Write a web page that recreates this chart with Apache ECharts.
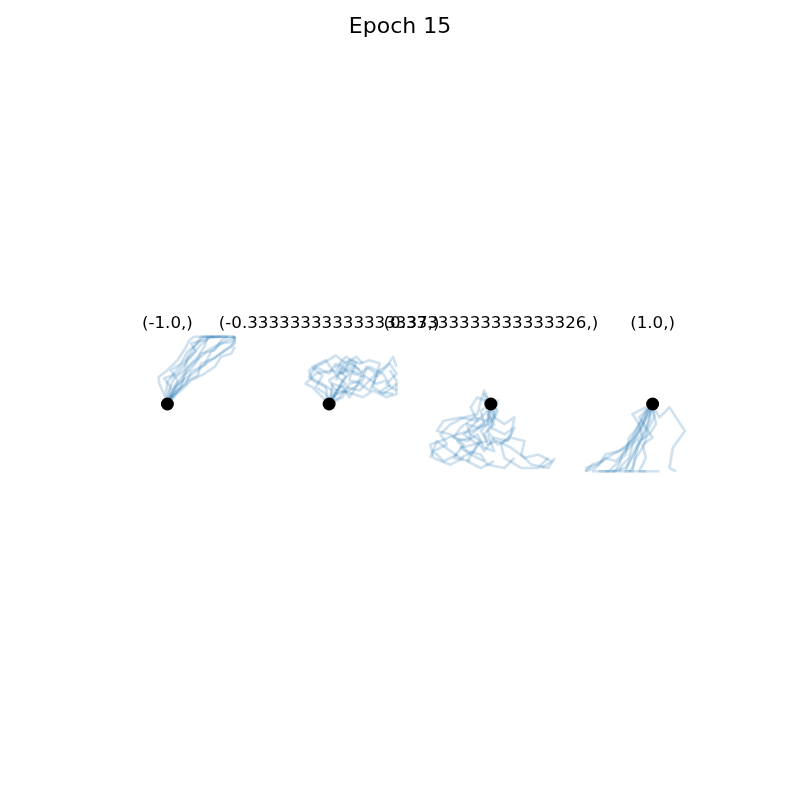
<!DOCTYPE html>
<html>
<head>
<meta charset="utf-8">
<script src="https://cdn.jsdelivr.net/npm/echarts@6/dist/echarts.min.js"></script>
<style>html,body{margin:0;padding:0;background:#fff}#c{width:800px;height:800px}</style>
</head>
<body>
<div id="c"></div>
<script>
const suptitle = "Epoch 15";
const panelTitles = ["(-1.0,)", "(-0.33333333333333337,)", "(0.33333333333333326,)", "(1.0,)"];
const startPoint = [0, 0];

const panel1Paths = [
  [[0,0],[-0.05,0.15],[-0.12,0.3],[-0.13,0.4],[0.0,0.5],[0.15,0.65],[0.25,0.8],[0.33,0.95],[0.4,1],[0.6,1]],
  [[0,0],[0.05,0.12],[0.1,0.25],[0.2,0.38],[0.3,0.55],[0.45,0.7],[0.55,0.85],[0.6,1],[0.8,1]],
  [[0,0],[0.08,0.15],[0.18,0.3],[0.3,0.4],[0.45,0.5],[0.6,0.62],[0.75,0.72],[0.95,0.85],[1,0.95],[1,1]],
  [[0,0],[0.1,0.1],[0.2,0.25],[0.25,0.42],[0.4,0.58],[0.5,0.75],[0.7,0.8],[0.8,0.95],[0.9,1],[1,1]],
  [[0,0],[0.02,0.2],[0.1,0.38],[0.25,0.5],[0.3,0.7],[0.4,0.85],[0.48,0.97],[0.5,1],[0.7,1]],
  [[0,0],[0.12,0.18],[0.28,0.3],[0.35,0.48],[0.55,0.58],[0.65,0.78],[0.8,0.9],[0.95,0.92],[1,1]],
  [[0,0],[0.05,0.25],[-0.05,0.38],[0.15,0.45],[0.28,0.62],[0.42,0.78],[0.35,0.9],[0.55,0.95],[0.65,1],[0.9,1]],
  [[0,0],[0.15,0.2],[0.3,0.35],[0.45,0.42],[0.5,0.6],[0.7,0.68],[0.85,0.8],[1,0.9],[1,1]],
  [[0,0],[0.1,0.2],[0.15,0.35],[0.05,0.5],[0.2,0.6],[0.3,0.78],[0.45,0.9],[0.55,1],[0.75,1],[0.9,1]],
  [[0,0],[0.05,0.1],[0.2,0.2],[0.35,0.35],[0.55,0.45],[0.7,0.55],[0.8,0.7],[0.95,0.75],[1,0.85]],
  [[0,0],[-0.02,0.18],[0.0,0.32],[0.12,0.48],[0.2,0.58],[0.35,0.72],[0.5,0.88],[0.62,0.98],[0.8,1],[1,1]],
  [[0,0],[0.08,0.22],[0.22,0.35],[0.32,0.55],[0.5,0.7],[0.6,0.8],[0.75,0.88],[0.9,0.95],[1,1]]
];
const panel2Paths = [
  [[0,0],[0.05,0.2],[-0.1,0.3],[-0.3,0.4],[-0.2,0.55],[0,0.45],[0.1,0.6],[0.2,0.5],[0.35,0.55],[0.3,0.35],[0.5,0.3]],
  [[0,0],[0.1,0.15],[0.2,0.35],[0.3,0.45],[0.15,0.6],[0.25,0.7],[0.4,0.62],[0.35,0.45],[0.55,0.4],[0.7,0.3],[0.85,0.35]],
  [[0,0],[0.15,0.1],[0.25,0.25],[0.45,0.2],[0.6,0.35],[0.75,0.5],[0.9,0.6],[1,0.45],[0.85,0.3],[1,0.2]],
  [[0,0],[-0.05,0.15],[-0.2,0.25],[-0.1,0.42],[-0.25,0.55],[-0.05,0.65],[0.05,0.5],[0.2,0.45],[0.3,0.62],[0.45,0.5]],
  [[0,0],[0.2,0.1],[0.3,0.3],[0.5,0.35],[0.55,0.55],[0.7,0.45],[0.65,0.25],[0.8,0.15],[0.95,0.25],[1,0.3]],
  [[0,0],[0.05,0.3],[0.2,0.25],[0.3,0.1],[0.4,0.25],[0.5,0.45],[0.35,0.6],[0.2,0.55],[0.1,0.35]],
  [[0,0],[0.1,0.2],[0.0,0.35],[0.15,0.45],[0.3,0.5],[0.45,0.45],[0.6,0.55],[0.8,0.45],[0.9,0.28],[0.75,0.18],[0.95,0.15]],
  [[0,0],[-0.1,0.1],[-0.25,0.25],[-0.35,0.3],[-0.2,0.45],[0.05,0.5],[0.15,0.38],[0.25,0.3],[0.1,0.2]],
  [[0,0],[0.15,0.2],[0.35,0.15],[0.5,0.1],[0.65,0.2],[0.85,0.1],[1,0.15],[1,0.35],[0.9,0.5]],
  [[0,0],[-0.05,0.25],[-0.25,0.35],[-0.3,0.5],[-0.1,0.6],[0.1,0.72],[0.25,0.6],[0.4,0.7],[0.5,0.6]],
  [[0,0],[0.1,0.15],[0.3,0.2],[0.45,0.3],[0.6,0.2],[0.7,0.4],[0.85,0.55],[0.95,0.7],[1,0.55]],
  [[0,0],[0.05,0.1],[0.25,0.4],[0.1,0.55],[0.3,0.65],[0.45,0.6],[0.6,0.65],[0.75,0.6],[0.7,0.4]]
];
const panel3Paths = [
  [[0,0],[-0.1,0.2],[-0.15,0.05],[-0.2,-0.15],[-0.4,-0.2],[-0.6,-0.3],[-0.75,-0.45],[-0.65,-0.6],[-0.85,-0.7],[-0.7,-0.85],[-0.5,-0.75]],
  [[0,0],[-0.05,-0.15],[0.05,-0.3],[-0.1,-0.45],[-0.05,-0.6],[0.1,-0.55],[0.3,-0.65],[0.5,-0.8],[0.7,-0.75],[0.9,-0.85],[0.75,-0.95]],
  [[0,0],[0.0,-0.2],[-0.2,-0.35],[-0.35,-0.3],[-0.3,-0.5],[-0.5,-0.55],[-0.35,-0.7],[-0.15,-0.75],[-0.05,-0.9],[0.2,-0.95],[0.35,-0.8]],
  [[0,0],[-0.15,-0.1],[-0.1,-0.3],[-0.3,-0.45],[-0.15,-0.55],[-0.25,-0.7],[-0.45,-0.8],[-0.6,-0.7],[-0.8,-0.55],[-0.9,-0.8]],
  [[0,0],[0.05,-0.2],[0.2,-0.3],[0.35,-0.2],[0.3,-0.45],[0.15,-0.6],[0.2,-0.8],[0.45,-0.95],[0.7,-0.95],[0.85,-0.8]],
  [[0,0],[-0.05,-0.25],[-0.25,-0.2],[-0.45,-0.35],[-0.55,-0.5],[-0.35,-0.55],[-0.2,-0.45],[-0.1,-0.65],[0.05,-0.7],[-0.05,-0.45]],
  [[0,0],[-0.2,0.1],[-0.3,-0.05],[-0.2,-0.25],[-0.45,-0.2],[-0.7,-0.25],[-0.8,-0.4],[-0.6,-0.45],[-0.4,-0.6],[-0.55,-0.8],[-0.3,-0.85]],
  [[0,0],[0.1,-0.1],[0.0,-0.35],[0.2,-0.45],[0.35,-0.35],[0.25,-0.55],[0.05,-0.5],[-0.1,-0.7],[-0.2,-0.55]],
  [[0,0],[-0.05,-0.3],[-0.3,-0.4],[-0.5,-0.45],[-0.75,-0.55],[-0.9,-0.6],[-0.85,-0.8],[-0.6,-0.9],[-0.4,-0.8]],
  [[0,0],[0.05,-0.15],[-0.05,-0.4],[0.1,-0.6],[0.3,-0.5],[0.5,-0.55],[0.45,-0.75],[0.6,-0.9],[0.85,-0.95],[0.95,-0.8]],
  [[0,0],[-0.1,0.15],[-0.05,-0.1],[-0.25,-0.3],[-0.4,-0.45],[-0.2,-0.6],[-0.35,-0.85],[-0.15,-0.95],[0.05,-0.85]],
  [[0,0],[0.1,0.05],[0.05,-0.2],[-0.15,-0.4],[-0.05,-0.55],[-0.25,-0.6],[-0.45,-0.65],[-0.3,-0.75],[-0.1,-0.85]]
];
const panel4Paths = [
  [[0,0],[-0.05,-0.15],[-0.15,-0.3],[-0.25,-0.45],[-0.35,-0.6],[-0.45,-0.75],[-0.5,-0.9],[-0.55,-1],[-0.8,-1]],
  [[0,0],[-0.1,-0.1],[-0.2,-0.3],[-0.3,-0.5],[-0.4,-0.65],[-0.6,-0.75],[-0.75,-0.85],[-0.9,-0.9],[-1,-1]],
  [[0,0],[-0.3,-0.15],[-0.2,-0.3],[-0.15,-0.5],[-0.25,-0.65],[-0.35,-0.85],[-0.4,-1],[-0.1,-1]],
  [[0,0],[0.1,-0.2],[0.25,-0.05],[0.48,-0.4],[0.3,-0.65],[0.25,-0.95],[0.35,-1]],
  [[0,0],[-0.05,-0.2],[-0.1,-0.4],[-0.2,-0.6],[-0.3,-0.8],[-0.4,-0.95],[-0.6,-1]],
  [[0,0],[-0.2,-0.2],[-0.1,-0.35],[0.0,-0.5],[-0.15,-0.6],[-0.1,-0.8],[-0.2,-1],[0.1,-1]],
  [[0,0],[-0.08,-0.12],[-0.15,-0.35],[-0.3,-0.55],[-0.5,-0.7],[-0.7,-0.75],[-0.8,-0.9],[-1,-0.95]],
  [[0,0],[0.05,-0.3],[-0.05,-0.45],[-0.2,-0.55],[-0.25,-0.75],[-0.3,-0.95],[-0.35,-1]],
  [[0,0],[-0.1,-0.2],[-0.2,-0.4],[-0.3,-0.6],[-0.35,-0.8],[-0.45,-0.9],[-0.5,-1],[-0.7,-1]],
  [[0,0],[-0.05,-0.25],[-0.15,-0.45],[-0.25,-0.55],[-0.4,-0.7],[-0.55,-0.85],[-0.7,-0.8],[-0.85,-0.95],[-1,-1]],
  [[0,0],[-0.12,-0.18],[-0.25,-0.38],[-0.35,-0.5],[-0.4,-0.75],[-0.55,-0.9],[-0.65,-1],[-0.9,-1]],
  [[0,0],[0.02,-0.2],[-0.08,-0.4],[-0.12,-0.6],[-0.25,-0.8],[-0.3,-1],[-0.5,-1]]
];
const allPanels = [panel1Paths, panel2Paths, panel3Paths, panel4Paths];

const chart = echarts.init(document.getElementById('c'), null, {renderer: 'canvas'});
const axW = 620 / 4.6, gap = axW * 0.2, left0 = 100;
const top0 = 404 - axW / 2;
const grids = [], xAxes = [], yAxes = [], series = [], titles = [];
titles.push({text: suptitle, left: 'center', top: 16, padding: 0,
  textStyle: {fontFamily: 'DejaVu Sans', fontSize: 22, fontWeight: 'normal', color: '#000'}});
allPanels.forEach((paths, i) => {
  const l = left0 + i * (axW + gap);
  grids.push({left: l, top: top0, width: axW, height: axW, containLabel: false});
  xAxes.push({gridIndex: i, type: 'value', min: -1, max: 1, show: false});
  yAxes.push({gridIndex: i, type: 'value', min: -1, max: 1, show: false});
  titles.push({text: panelTitles[i], left: l + axW / 2, top: 315, textAlign: 'center', padding: 0,
    textStyle: {fontFamily: 'DejaVu Sans', fontSize: 16.7, fontWeight: 'normal', color: '#000'}});
  paths.forEach(p => {
    series.push({type: 'line', xAxisIndex: i, yAxisIndex: i, data: p, symbol: 'none',
      clip: true, silent: true, animation: false,
      lineStyle: {color: '#1f77b4', width: 2.7, opacity: 0.21, join: 'round'}});
  });
  series.push({type: 'scatter', xAxisIndex: i, yAxisIndex: i, data: [startPoint], symbolSize: 13,
    itemStyle: {color: '#000', opacity: 1}, z: 10, animation: false, silent: true, clip: false});
});
chart.setOption({backgroundColor: '#fff', animation: false, title: titles,
  grid: grids, xAxis: xAxes, yAxis: yAxes, series: series});
</script>
</body>
</html>
